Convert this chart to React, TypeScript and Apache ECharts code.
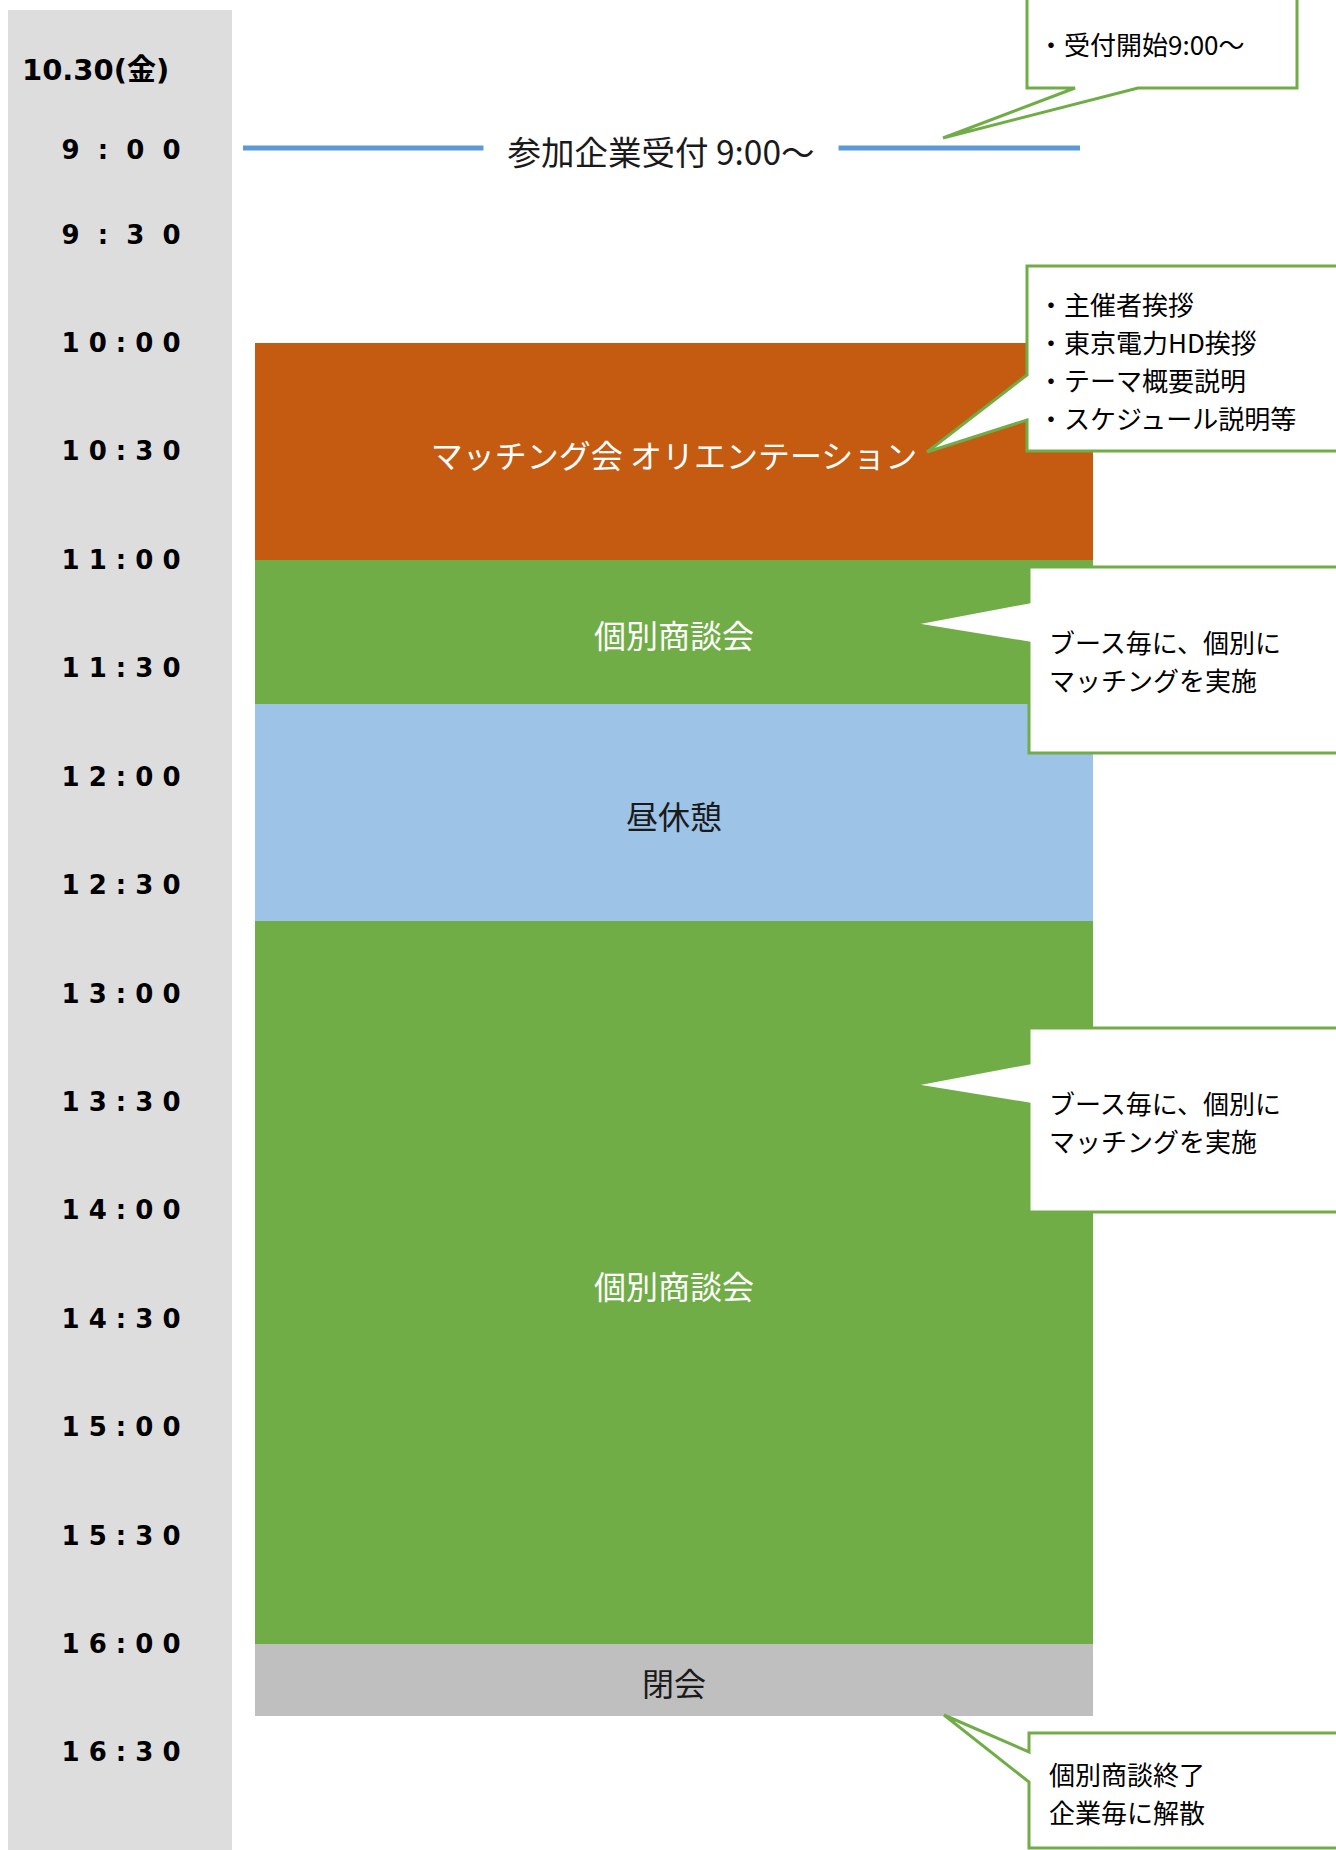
import React, { useEffect, useRef } from "react";
import * as echarts from "echarts";

// ---- data ----
const dateLabel = "10.30(金)";
const tickLabels = [
  "9:00", "9:30", "10:00", "10:30", "11:00", "11:30", "12:00", "12:30",
  "13:00", "13:30", "14:00", "14:30", "15:00", "15:30", "16:00", "16:30",
];
const blockNames = [
  "マッチング会 オリエンテーション",
  "個別商談会",
  "昼休憩",
  "個別商談会",
  "閉会",
];
const blockStarts = ["10:00", "11:00", "11:40", "12:40", "16:00"];
const blockEnds = ["11:00", "11:40", "12:40", "16:00", "16:20"];
const blockColors = ["#c55a11", "#70ad47", "#9dc3e6", "#70ad47", "#bfbfbf"];
const blockTextColors = ["#ffffff", "#ffffff", "#1a1a1a", "#ffffff", "#1a1a1a"];
const receptionTime = "9:00";
const receptionLabel = "参加企業受付 9:00〜";
const calloutTexts = [
  "・受付開始9:00〜",
  "・主催者挨拶\n・東京電力HD挨拶\n・テーマ概要説明\n・スケジュール説明等",
  "ブース毎に、個別に\nマッチングを実施",
  "ブース毎に、個別に\nマッチングを実施",
  "個別商談終了\n企業毎に解散",
];

// ---- helpers ----
const toMin = (s: string) => {
  const [h, m] = s.split(":").map(Number);
  return h * 60 + m;
};
const toLabel = (v: number) => `${Math.floor(v / 60)}:${String(v % 60).padStart(2, "0")}`;
const spread = (s: string) => s.split("").join(s.length >= 5 ? "\u00A0" : "\u00A0\u00A0");

const JP = "'Noto Sans CJK JP', 'Noto Sans', sans-serif";
const GREEN = "#70ad47";

export default function App() {
  const ref = useRef<HTMLDivElement>(null);

  useEffect(() => {
    if (!ref.current) return;
    const chart = echarts.init(ref.current, undefined, { renderer: "svg" });

    const blockData = blockStarts.map((s, i) => [toMin(s), toMin(blockEnds[i]), i]);

    // The sheet has a shorter first row (9:00-9:30) and regular rows after it:
    // two stacked grids, each with its own linear time scale.
    const pxPerMin = 1301 / 360;
    const topMin = 540;
    const breakMin = 570;
    const endMin = 1000;
    const topY = 150;
    const breakY = 343 - (600 - breakMin) * pxPerMin;

    const labelAxis = (min: number, max: number, showMax: boolean) => ({
      type: "value",
      inverse: true,
      min,
      max,
      interval: 30,
      axisLine: { show: false },
      axisTick: { show: false },
      splitLine: { show: false },
      axisLabel: {
        margin: 134,
        align: "center",
        color: "#000",
        fontSize: 26,
        fontWeight: "bold",
        fontFamily: "'DejaVu Sans', sans-serif",
        formatter: (v: number) => {
          if (!showMax && v === max) return "";
          const l = toLabel(v);
          return tickLabels.includes(l) ? spread(l) : "";
        },
      },
    });

    const callouts: any[] = [
      {
        points: [[1027, -3], [1297, -3], [1297, 88], [1138, 88], [943, 138], [1075, 88], [1027, 88]],
        tx: 1038, ty: 43,
      },
      {
        points: [[1027, 266], [1345, 266], [1345, 451], [1027, 451], [1027, 420], [927, 452], [1027, 375]],
        tx: 1038, ty: 360,
      },
      {
        points: [[1029, 567], [1345, 567], [1345, 753], [1029, 753], [1029, 643], [912, 624], [1029, 602]],
        tx: 1049, ty: 660,
      },
      {
        points: [[1029, 1028], [1345, 1028], [1345, 1212], [1029, 1212], [1029, 1104], [912, 1085], [1029, 1063]],
        tx: 1049, ty: 1121,
      },
      {
        points: [[1029, 1733], [1345, 1733], [1345, 1848], [1029, 1848], [1029, 1782], [944, 1715], [1029, 1752]],
        tx: 1049, ty: 1792,
      },
    ];

    const graphics: any[] = [
      {
        type: "rect",
        z: -10,
        shape: { x: 8, y: 10, width: 224, height: 1850 },
        style: { fill: "#dddddd" },
      },
      {
        type: "text",
        z: 10,
        x: 22,
        y: 70,
        style: {
          text: dateLabel,
          fill: "#000",
          fontSize: 29,
          fontWeight: "bold",
          fontFamily: "'DejaVu Sans', 'Noto Sans CJK JP', sans-serif",
          align: "left",
          verticalAlign: "middle",
        },
      },
    ];
    callouts.forEach((c, i) => {
      graphics.push({
        type: "polygon",
        z: 100,
        shape: { points: c.points },
        style: { fill: "#ffffff", stroke: GREEN, lineWidth: 3 },
      });
      graphics.push({
        type: "text",
        z: 101,
        x: c.tx,
        y: c.ty,
        style: {
          text: calloutTexts[i],
          fill: "#000",
          fontSize: 26,
          fontFamily: JP,
          lineHeight: 38,
          align: "left",
          verticalAlign: "middle",
        },
      });
    });

    chart.setOption({
      animation: false,
      grid: [
        { left: 255, right: 243, top: topY, height: breakY - topY },
        { left: 255, right: 243, top: breakY, height: (endMin - breakMin) * pxPerMin },
      ],
      xAxis: [
        { type: "value", gridIndex: 0, min: 0, max: 1, show: false },
        { type: "value", gridIndex: 1, min: 0, max: 1, show: false },
      ],
      yAxis: [
        { ...labelAxis(topMin, breakMin, false), gridIndex: 0 },
        { ...labelAxis(breakMin, endMin, true), gridIndex: 1 },
      ],
      series: [
        {
          type: "custom",
          xAxisIndex: 1,
          yAxisIndex: 1,
          z: 2,
          data: blockData,
          renderItem: (params: any, api: any) => {
            const s = api.value(0);
            const e = api.value(1);
            const idx = api.value(2);
            const cs = params.coordSys;
            const y0 = Math.round(api.coord([0, s])[1]);
            const y1 = Math.round(api.coord([0, e])[1]);
            return {
              type: "group",
              children: [
                {
                  type: "rect",
                  shape: { x: cs.x, y: y0, width: cs.width, height: y1 - y0 },
                  style: { fill: blockColors[idx] },
                },
                {
                  type: "text",
                  x: cs.x + cs.width / 2,
                  y: (y0 + y1) / 2 + 2,
                  style: {
                    text: blockNames[idx],
                    fill: blockTextColors[idx],
                    fontSize: 32,
                    fontFamily: JP,
                    align: "center",
                    verticalAlign: "middle",
                  },
                },
              ],
            };
          },
        },
        {
          type: "custom",
          xAxisIndex: 0,
          yAxisIndex: 0,
          z: 3,
          data: [[toMin(receptionTime)]],
          renderItem: (params: any, api: any) => {
            const cs = params.coordSys;
            const y = api.coord([0, api.value(0)])[1];
            return {
              type: "group",
              children: [
                {
                  type: "line",
                  shape: { x1: cs.x - 12, y1: y - 2, x2: cs.x + 825, y2: y - 2 },
                  style: { stroke: "#5b9bd5", lineWidth: 5 },
                },
                {
                  type: "text",
                  x: cs.x + 406,
                  y: y,
                  style: {
                    text: receptionLabel,
                    fill: "#1a1a1a",
                    fontSize: 33.5,
                    fontFamily: JP,
                    align: "center",
                    verticalAlign: "middle",
                    backgroundColor: "#ffffff",
                    padding: [2, 24],
                  },
                },
              ],
            };
          },
        },
      ],
      graphic: { elements: graphics },
    });

    return () => chart.dispose();
  }, []);

  return (
    <div
      ref={ref}
      style={{ position: "absolute", left: 0, top: 0, width: 1336, height: 1850, background: "#ffffff" }}
    />
  );
}
